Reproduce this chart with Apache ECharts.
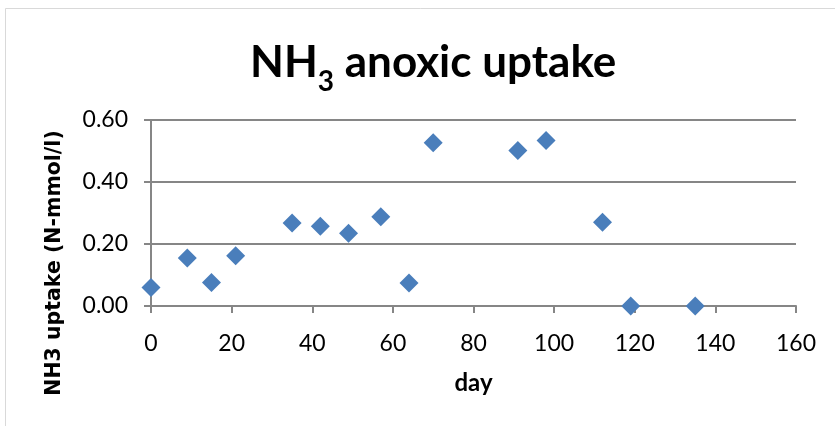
<!DOCTYPE html>
<html>
<head>
<meta charset="utf-8">
<script src="https://cdn.jsdelivr.net/npm/echarts@6/dist/echarts.min.js"></script>
<style>
  html, body { margin: 0; padding: 0; background: #fff; }
  #chart { width: 835px; height: 426px; }
</style>
</head>
<body>
<div id="chart"></div>
<script>
// Days of sampling and the measured anoxic NH3 uptake
const days = [0, 9, 15, 21, 35, 42, 49, 57, 64, 70, 91, 98, 112, 119, 135];
const uptake = [0.060, 0.155, 0.076, 0.162, 0.268, 0.257, 0.235, 0.288, 0.074, 0.527, 0.502, 0.534, 0.270, 0.000, 0.000];
const xTicks = [0, 20, 40, 60, 80, 100, 120, 140, 160];
const yTicks = [0.0, 0.2, 0.4, 0.6];
const yTitle = 'NH3 uptake (N-mmol/l)';

const points = days.map((d, i) => [d, uptake[i]]);
const gridColor = '#868686';
const tickFont = 'Lato, "Open Sans", sans-serif';

const chart = echarts.init(document.getElementById('chart'), null, { renderer: 'canvas' });
chart.setOption({
  backgroundColor: '#ffffff',
  animation: false,
  graphic: [
    {
      type: 'rect',
      shape: { x: 5.5, y: 8.5, width: 840, height: 430 },
      style: { fill: 'none', stroke: '#d9d9d9', lineWidth: 1 },
      silent: true
    },
    {
      // vertical axis title, rotated to read bottom-to-top
      type: 'text',
      x: 55,
      y: 263,
      rotation: Math.PI / 2,
      style: {
        text: yTitle,
        fontFamily: '"DejaVu Sans", sans-serif',
        fontWeight: 'bold',
        fontSize: 20.5,
        fill: '#000',
        align: 'center',
        verticalAlign: 'middle'
      },
      silent: true
    }
  ],
  title: {
    text: '{b|NH}{s|3}{b| anoxic uptake}',
    left: 245,
    top: 36,
    textStyle: {
      rich: {
        b: { fontFamily: 'Lato, sans-serif', fontWeight: 'bold', fontSize: 44, color: '#000', verticalAlign: 'bottom' },
        s: { fontFamily: 'Lato, sans-serif', fontWeight: 'bold', fontSize: 28, color: '#000', verticalAlign: 'bottom', padding: [0, 0, -11, 0] }
      }
    }
  },
  grid: { left: 151, right: 39, top: 120, bottom: 120, containLabel: false },
  xAxis: {
    type: 'value',
    min: xTicks[0],
    max: xTicks[xTicks.length - 1],
    interval: xTicks[1] - xTicks[0],
    name: 'day',
    nameLocation: 'middle',
    nameGap: 65,
    nameTextStyle: { fontFamily: tickFont, fontWeight: 'bold', fontSize: 24, color: '#000' },
    axisLine: { show: true, lineStyle: { color: gridColor, width: 2 } },
    axisTick: { show: true, length: 7, lineStyle: { color: gridColor, width: 2 } },
    axisLabel: { fontFamily: tickFont, fontSize: 23, color: '#000', margin: 26 },
    splitLine: { show: false }
  },
  yAxis: {
    type: 'value',
    min: yTicks[0],
    max: yTicks[yTicks.length - 1],
    interval: yTicks[1] - yTicks[0],
    axisLine: { show: true, lineStyle: { color: gridColor, width: 2 } },
    axisTick: { show: true, length: 7, lineStyle: { color: gridColor, width: 2 } },
    axisLabel: { fontFamily: tickFont, fontSize: 23, color: '#000', margin: 23, formatter: v => v.toFixed(2) },
    splitLine: { show: true, lineStyle: { color: gridColor, width: 2 } }
  },
  series: [{
    type: 'scatter',
    data: points,
    symbol: 'diamond',
    symbolSize: 19,
    itemStyle: { color: '#4a7ebb', opacity: 1 }
  }]
});
</script>
</body>
</html>
